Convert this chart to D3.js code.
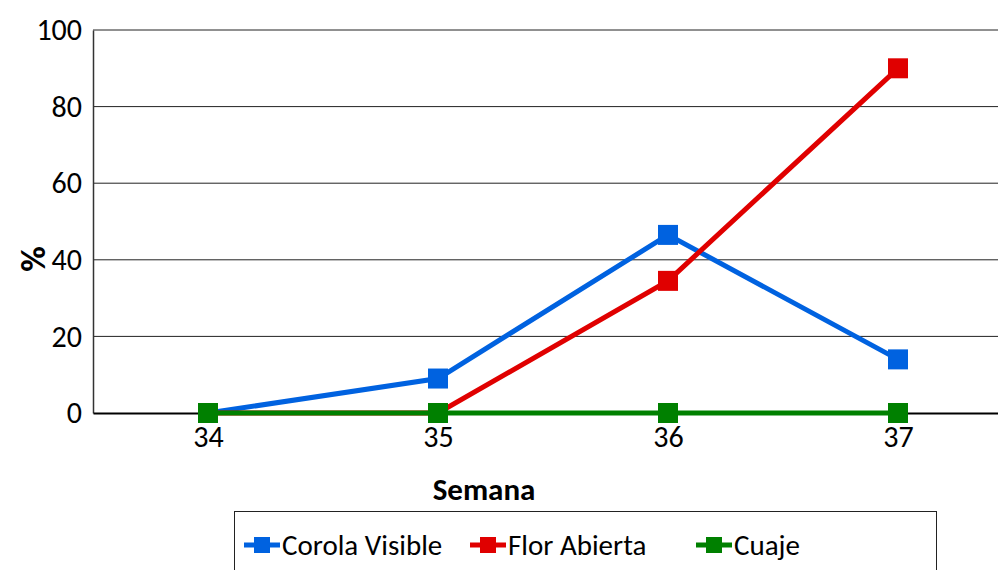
<!DOCTYPE html>
<html>
<head>
<meta charset="utf-8">
<script src="https://cdn.jsdelivr.net/npm/d3@7"></script>
<style>
  body { margin: 0; background: #fff; }
  text { font-family: Carlito, Lato, "Liberation Sans", sans-serif; }
</style>
</head>
<body>
<div id="chart"></div>
<script>
var w = 998, h = 570;

// data
var semanas = ["34", "35", "36", "37"];
var corolaVisible = [0, 9, 46.5, 14];
var florAbierta = [0, 0, 34.5, 90];
var cuaje = [0, 0, 0, 0];
var yTicks = [0, 20, 40, 60, 80, 100];

var series = [
  {name: "Corola Visible", values: corolaVisible, color: "#0062e0"},
  {name: "Flor Abierta", values: florAbierta, color: "#e00000"},
  {name: "Cuaje", values: cuaje, color: "#008000"}
];

var margin = {top: 30, left: 93};
var plotW = 920, plotH = 383;

var svg = d3.select("#chart").append("svg")
    .attr("width", w)
    .attr("height", h);

var g = svg.append("g")
    .attr("transform", "translate(" + margin.left + "," + margin.top + ")");

var x = d3.scalePoint()
    .domain(semanas)
    .range([0, plotW])
    .padding(0.5);

var y = d3.scaleLinear()
    .domain([0, 100])
    .range([plotH, 0]);

// gridlines
g.selectAll(".grid")
    .data(yTicks.filter(function(d) { return d > 0; }))
    .enter().append("line")
    .attr("x1", 0).attr("x2", plotW)
    .attr("y1", function(d) { return y(d); })
    .attr("y2", function(d) { return y(d); })
    .attr("stroke", "#222")
    .attr("stroke-width", 1);

// y axis
var yAxis = g.append("g")
    .call(d3.axisLeft(y).tickValues(yTicks).tickSize(0).tickPadding(11));
yAxis.select(".domain").attr("stroke", "#333").attr("stroke-width", 1.5);
yAxis.selectAll("text")
    .attr("font-size", 30)
    .attr("fill", "#000")
    .style("font-family", "Carlito, Lato, sans-serif");

// x axis (zero line)
var xAxis = g.append("g")
    .attr("transform", "translate(0," + plotH + ")")
    .call(d3.axisBottom(x).tickSize(0).tickPadding(13));
xAxis.select(".domain").attr("stroke", "#000").attr("stroke-width", 2);
xAxis.selectAll("text")
    .attr("font-size", 30)
    .attr("fill", "#000")
    .style("font-family", "Carlito, Lato, sans-serif");

// axis titles
svg.append("text")
    .attr("x", 484).attr("y", 500)
    .attr("text-anchor", "middle")
    .attr("font-size", 31)
    .attr("font-weight", "bold")
    .text("Semana");

svg.append("text")
    .attr("transform", "translate(45,259) rotate(-90)")
    .attr("text-anchor", "middle")
    .attr("font-size", 35)
    .attr("font-weight", "bold")
    .text("%");

// lines
var line = d3.line()
    .x(function(d, i) { return x(semanas[i]); })
    .y(function(d) { return y(d); });

var ms = 20;
series.forEach(function(s) {
  g.append("path")
    .datum(s.values)
    .attr("fill", "none")
    .attr("stroke", s.color)
    .attr("stroke-width", 5)
    .attr("d", line);
  g.selectAll(null)
    .data(s.values)
    .enter().append("rect")
    .attr("x", function(d, i) { return x(semanas[i]) - ms / 2; })
    .attr("y", function(d) { return y(d) - ms / 2; })
    .attr("width", ms).attr("height", ms)
    .attr("fill", s.color);
});

// legend
svg.append("rect")
    .attr("x", 234.5).attr("y", 511.5)
    .attr("width", 702).attr("height", 70)
    .attr("fill", "#fff")
    .attr("stroke", "#222")
    .attr("stroke-width", 1);

var legendX = [244, 470, 696];
var leg = svg.selectAll(".leg")
    .data(series)
    .enter().append("g")
    .attr("transform", function(d, i) { return "translate(" + legendX[i] + ",545)"; });
leg.append("line")
    .attr("x1", 0).attr("x2", 36)
    .attr("stroke", function(d) { return d.color; })
    .attr("stroke-width", 5);
leg.append("rect")
    .attr("x", 10).attr("y", -8)
    .attr("width", 16).attr("height", 16)
    .attr("fill", function(d) { return d.color; });
leg.append("text")
    .attr("x", 38).attr("y", 10)
    .attr("font-size", 29)
    .text(function(d) { return d.name; });
</script>
</body>
</html>
